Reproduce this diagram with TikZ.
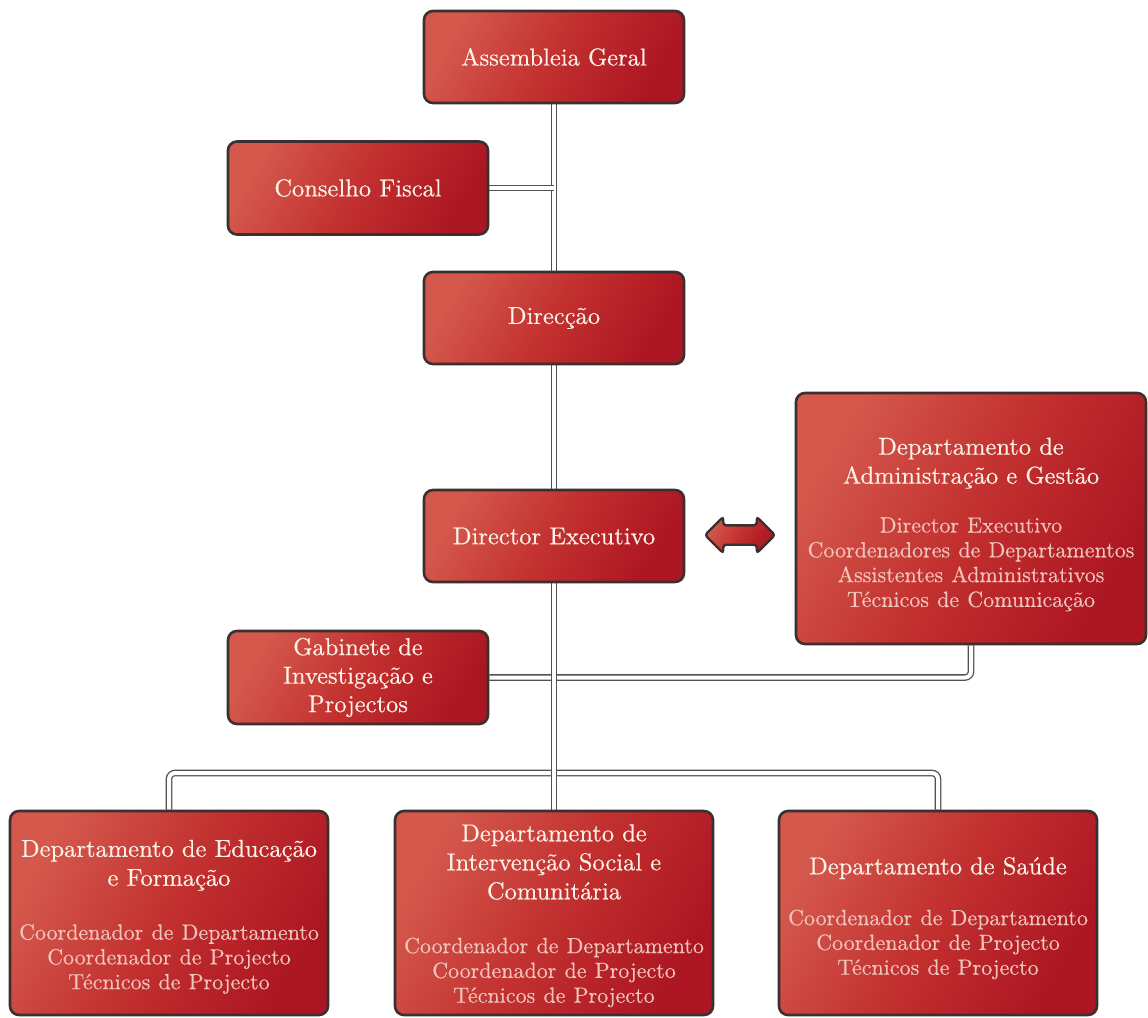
\documentclass[tikz,border=0pt]{standalone}
\usepackage{fontspec}
\setmainfont{lmroman10-regular}[Extension=.otf, FakeBold=0.35]
\usetikzlibrary{shapes.arrows,backgrounds}
\definecolor{boxedge}{HTML}{3A3030}
\definecolor{headcol}{HTML}{FCF2E8}
\definecolor{subcol}{HTML}{EFC4BA}
\definecolor{redlight}{HTML}{D4584C}
\definecolor{redmid}{HTML}{C2302F}
\definecolor{reddark}{HTML}{AC1622}
\definecolor{connedge}{HTML}{555050}
\newcommand\hd[2][0pt]{{\fontsize{24.5}{29}\selectfont\color{headcol}\rule{0pt}{#1}#2\par}}
\newcommand\sbt[1]{{\fontsize{22}{24.8}\selectfont\color{subcol}#1\par}}
\tikzset{
  box/.style={rounded corners=9pt, draw=boxedge, line width=2.6pt,
    left color=redlight, right color=reddark, middle color=redmid, shading angle=60,
    align=center, inner xsep=2pt, inner ysep=0pt, text=headcol,
    font=\fontsize{24.5}{29}\selectfont},
  conn/.style={draw=connedge, line width=1.3pt, double=white, double distance=4pt, rounded corners=6pt},
  twoarrow/.style={double arrow, draw=boxedge, line width=2.4pt, rounded corners=3pt,
    left color=redlight, right color=reddark, middle color=redmid, shading angle=60,
    minimum height=70pt, inner sep=8.5pt, double arrow head extend=8.5pt}
}
\begin{document}
\begin{tikzpicture}[x=1pt,y=-1pt]
\useasboundingbox (0,0) rectangle (1148,1017);
\node[box, minimum width=260pt, minimum height=92pt] (ag) at (554,57) {Assembleia Geral};
\node[box, minimum width=260pt, minimum height=93pt] (cf) at (358,188) {Conselho Fiscal};
\node[box, minimum width=260pt, minimum height=92pt] (dir) at (554,318) {Direcção};
\node[box, minimum width=260pt, minimum height=92pt] (de) at (554,536) {Director Executivo};
\node[box, text width=346pt, minimum height=251pt] (adm) at (971,518.5)
  {\hd[29pt]{Departamento de\\Administração e Gestão}\vspace{24pt}
   \sbt{Director Executivo\\Coordenadores de Departamentos\\Assistentes Administrativos\\Técnicos de Comunicação}};
\node[box, minimum width=260pt, minimum height=93pt, font=\fontsize{24.5}{28.5}\selectfont] (gab) at (358,677.5)
  {Gabinete de\\Investigação e\\Projectos};
\node[box, text width=314pt, minimum height=204pt] (edu) at (169,913)
  {\hd[24.5pt]{Departamento de Educação\\e Formação}\vspace{29pt}
   \sbt{Coordenador de Departamento\\Coordenador de Projecto\\Técnicos de Projecto}};
\node[box, text width=314pt, minimum height=204pt] (isc) at (554,913)
  {\hd[22.5pt]{Departamento de\\Intervenção Social e\\Comunitária}\vspace{29pt}
   \sbt{Coordenador de Departamento\\Coordenador de Projecto\\Técnicos de Projecto}};
\node[box, text width=314pt, minimum height=204pt] (sau) at (938,913)
  {\hd[27.5pt]{Departamento de Saúde}\vspace{26pt}
   \sbt{Coordenador de Departamento\\Coordenador de Projecto\\Técnicos de Projecto}};
\node[twoarrow] (arr) at (740,535) {};
\coordinate (bar) at (554,773);
\begin{scope}[on background layer]
  \fill[white] (0,0) rectangle (1148,1017);
  \draw[conn] (ag.south) -- (dir.north);
  \draw[conn] (cf.east) -- (cf.east -| ag.south);
  \draw[conn] (dir.south) -- (de.north);
  \draw[conn] (gab.east) -| (adm.south);
  \draw[conn] (edu.north) |- (bar) -| (sau.north);
  \draw[conn] (de.south) -- (isc.north);
\end{scope}
\end{tikzpicture}
\end{document}
